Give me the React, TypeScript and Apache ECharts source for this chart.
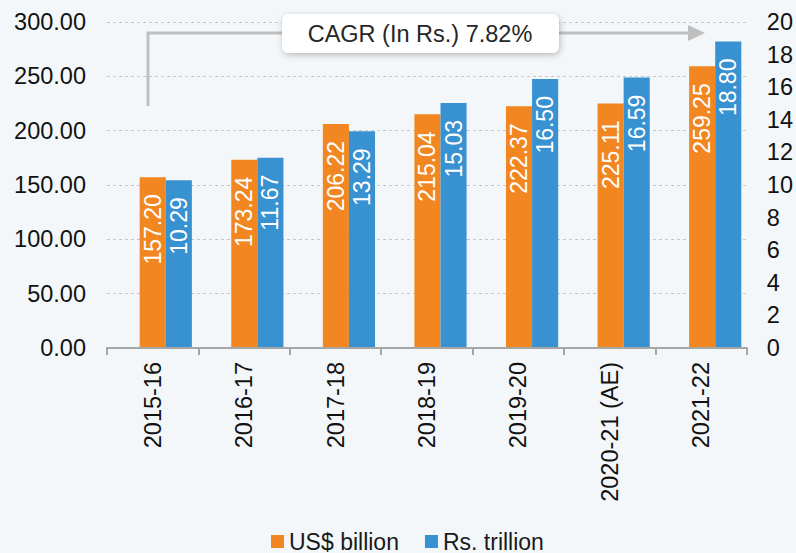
import React, { useEffect, useRef } from "react";
import * as echarts from "echarts";

const categories = ["2015-16", "2016-17", "2017-18", "2018-19", "2019-20", "2020-21 (AE)", "2021-22"];
const usdBillion = [157.2, 173.24, 206.22, 215.04, 222.37, 225.11, 259.25];
const rsTrillion = [10.29, 11.67, 13.29, 15.03, 16.5, 16.59, 18.8];
const seriesNames = ["US$ billion", "Rs. trillion"];
const cagrText = "CAGR (In Rs.) 7.82%";

const FONT = "Liberation Sans, Arial, sans-serif";
const ORANGE = "#f28620";
const BLUE = "#3891d1";

export default function App() {
  const ref = useRef<HTMLDivElement>(null);
  useEffect(() => {
    if (!ref.current) return;
    const chart = echarts.init(ref.current, null, { renderer: "svg" });
    const barLabel = {
      show: true,
      position: "insideTop",
      rotate: 90,
      align: "right",
      verticalAlign: "middle",
      distance: 17,
      color: "#ffffff",
      fontSize: 23,
      fontFamily: FONT,
    };
    chart.setOption({
      animation: false,
      backgroundColor: "#f4f7f9",
      textStyle: { fontFamily: FONT },
      grid: [
        // grid for the bars (Excel-style offset of the bar pair)
        { left: 120, right: 35, top: 22, bottom: 205, containLabel: false },
        // grid for the visible axes
        { left: 107, right: 48, top: 22, bottom: 205, containLabel: false },
      ],
      legend: {
        left: 266,
        top: 525,
        icon: "rect",
        itemWidth: 13,
        itemHeight: 13,
        itemGap: 26,
        textStyle: { fontSize: 23, color: "#1a1a1a", fontFamily: FONT },
        data: seriesNames,
      },
      xAxis: [
        {
          type: "category",
          gridIndex: 0,
          data: categories,
          show: false,
        },
        {
          type: "category",
          gridIndex: 1,
          data: categories,
          axisLine: { show: true, lineStyle: { color: "#a6a6a6", width: 2 } },
          axisTick: { show: true, length: 7, lineStyle: { color: "#a6a6a6", width: 2 } },
          axisLabel: { rotate: 90, fontSize: 23.5, color: "#111", margin: 14, fontFamily: FONT },
          z: 5,
        },
      ],
      yAxis: [
        { type: "value", gridIndex: 0, min: 0, max: 300, interval: 50, show: false, splitLine: { show: false } },
        { type: "value", gridIndex: 0, min: 0, max: 20, interval: 2, show: false, splitLine: { show: false } },
        {
          type: "value",
          gridIndex: 1,
          min: 0,
          max: 300,
          interval: 50,
          axisLine: { show: false },
          axisTick: { show: false },
          axisLabel: {
            fontSize: 23.5,
            color: "#111",
            margin: 21,
            fontFamily: FONT,
            formatter: (v: number) => v.toFixed(2),
          },
          splitLine: { show: true, lineStyle: { color: "#c8c8c8", type: [3, 3], width: 1 } },
        },
        {
          type: "value",
          gridIndex: 1,
          position: "right",
          min: 0,
          max: 20,
          interval: 2,
          alignTicks: false,
          axisLine: { show: false },
          axisTick: { show: false },
          axisLabel: { fontSize: 23.5, color: "#111", margin: 20, fontFamily: FONT },
          splitLine: { show: false },
        },
      ],
      series: [
        {
          name: seriesNames[0],
          type: "bar",
          xAxisIndex: 0,
          yAxisIndex: 0,
          data: usdBillion,
          barGap: "0%",
          barCategoryGap: "43%",
          itemStyle: { color: ORANGE },
          label: { ...barLabel, formatter: (p: any) => Number(p.value).toFixed(2) },
        },
        {
          name: seriesNames[1],
          type: "bar",
          xAxisIndex: 0,
          yAxisIndex: 1,
          data: rsTrillion,
          barGap: "0%",
          barCategoryGap: "43%",
          itemStyle: { color: BLUE },
          label: { ...barLabel, formatter: (p: any) => Number(p.value).toFixed(2) },
        },
      ],
      graphic: [
        {
          type: "polyline",
          shape: { points: [[148, 106], [148, 33], [690, 33]] },
          style: { stroke: "#bfbfbf", lineWidth: 3, fill: "none" },
          z: 10,
        },
        {
          type: "polygon",
          shape: { points: [[688, 25], [705, 33], [688, 41]] },
          style: { fill: "#bfbfbf" },
          z: 10,
        },
        {
          type: "rect",
          shape: { x: 282, y: 14, width: 277, height: 39, r: 7 },
          style: {
            fill: "#ffffff",
            shadowBlur: 6,
            shadowColor: "rgba(0,0,0,0.25)",
            shadowOffsetX: 1,
            shadowOffsetY: 2,
          },
          z: 11,
        },
        {
          type: "text",
          x: 420,
          y: 34,
          style: {
            text: cagrText,
            fontSize: 23.5,
            fontFamily: FONT,
            fill: "#262626",
            align: "center",
            verticalAlign: "middle",
          },
          z: 12,
        },
      ],
    });
    return () => chart.dispose();
  }, []);
  return (
    <div
      ref={ref}
      style={{ position: "fixed", left: 0, top: 0, width: 796, height: 553 }}
    />
  );
}
